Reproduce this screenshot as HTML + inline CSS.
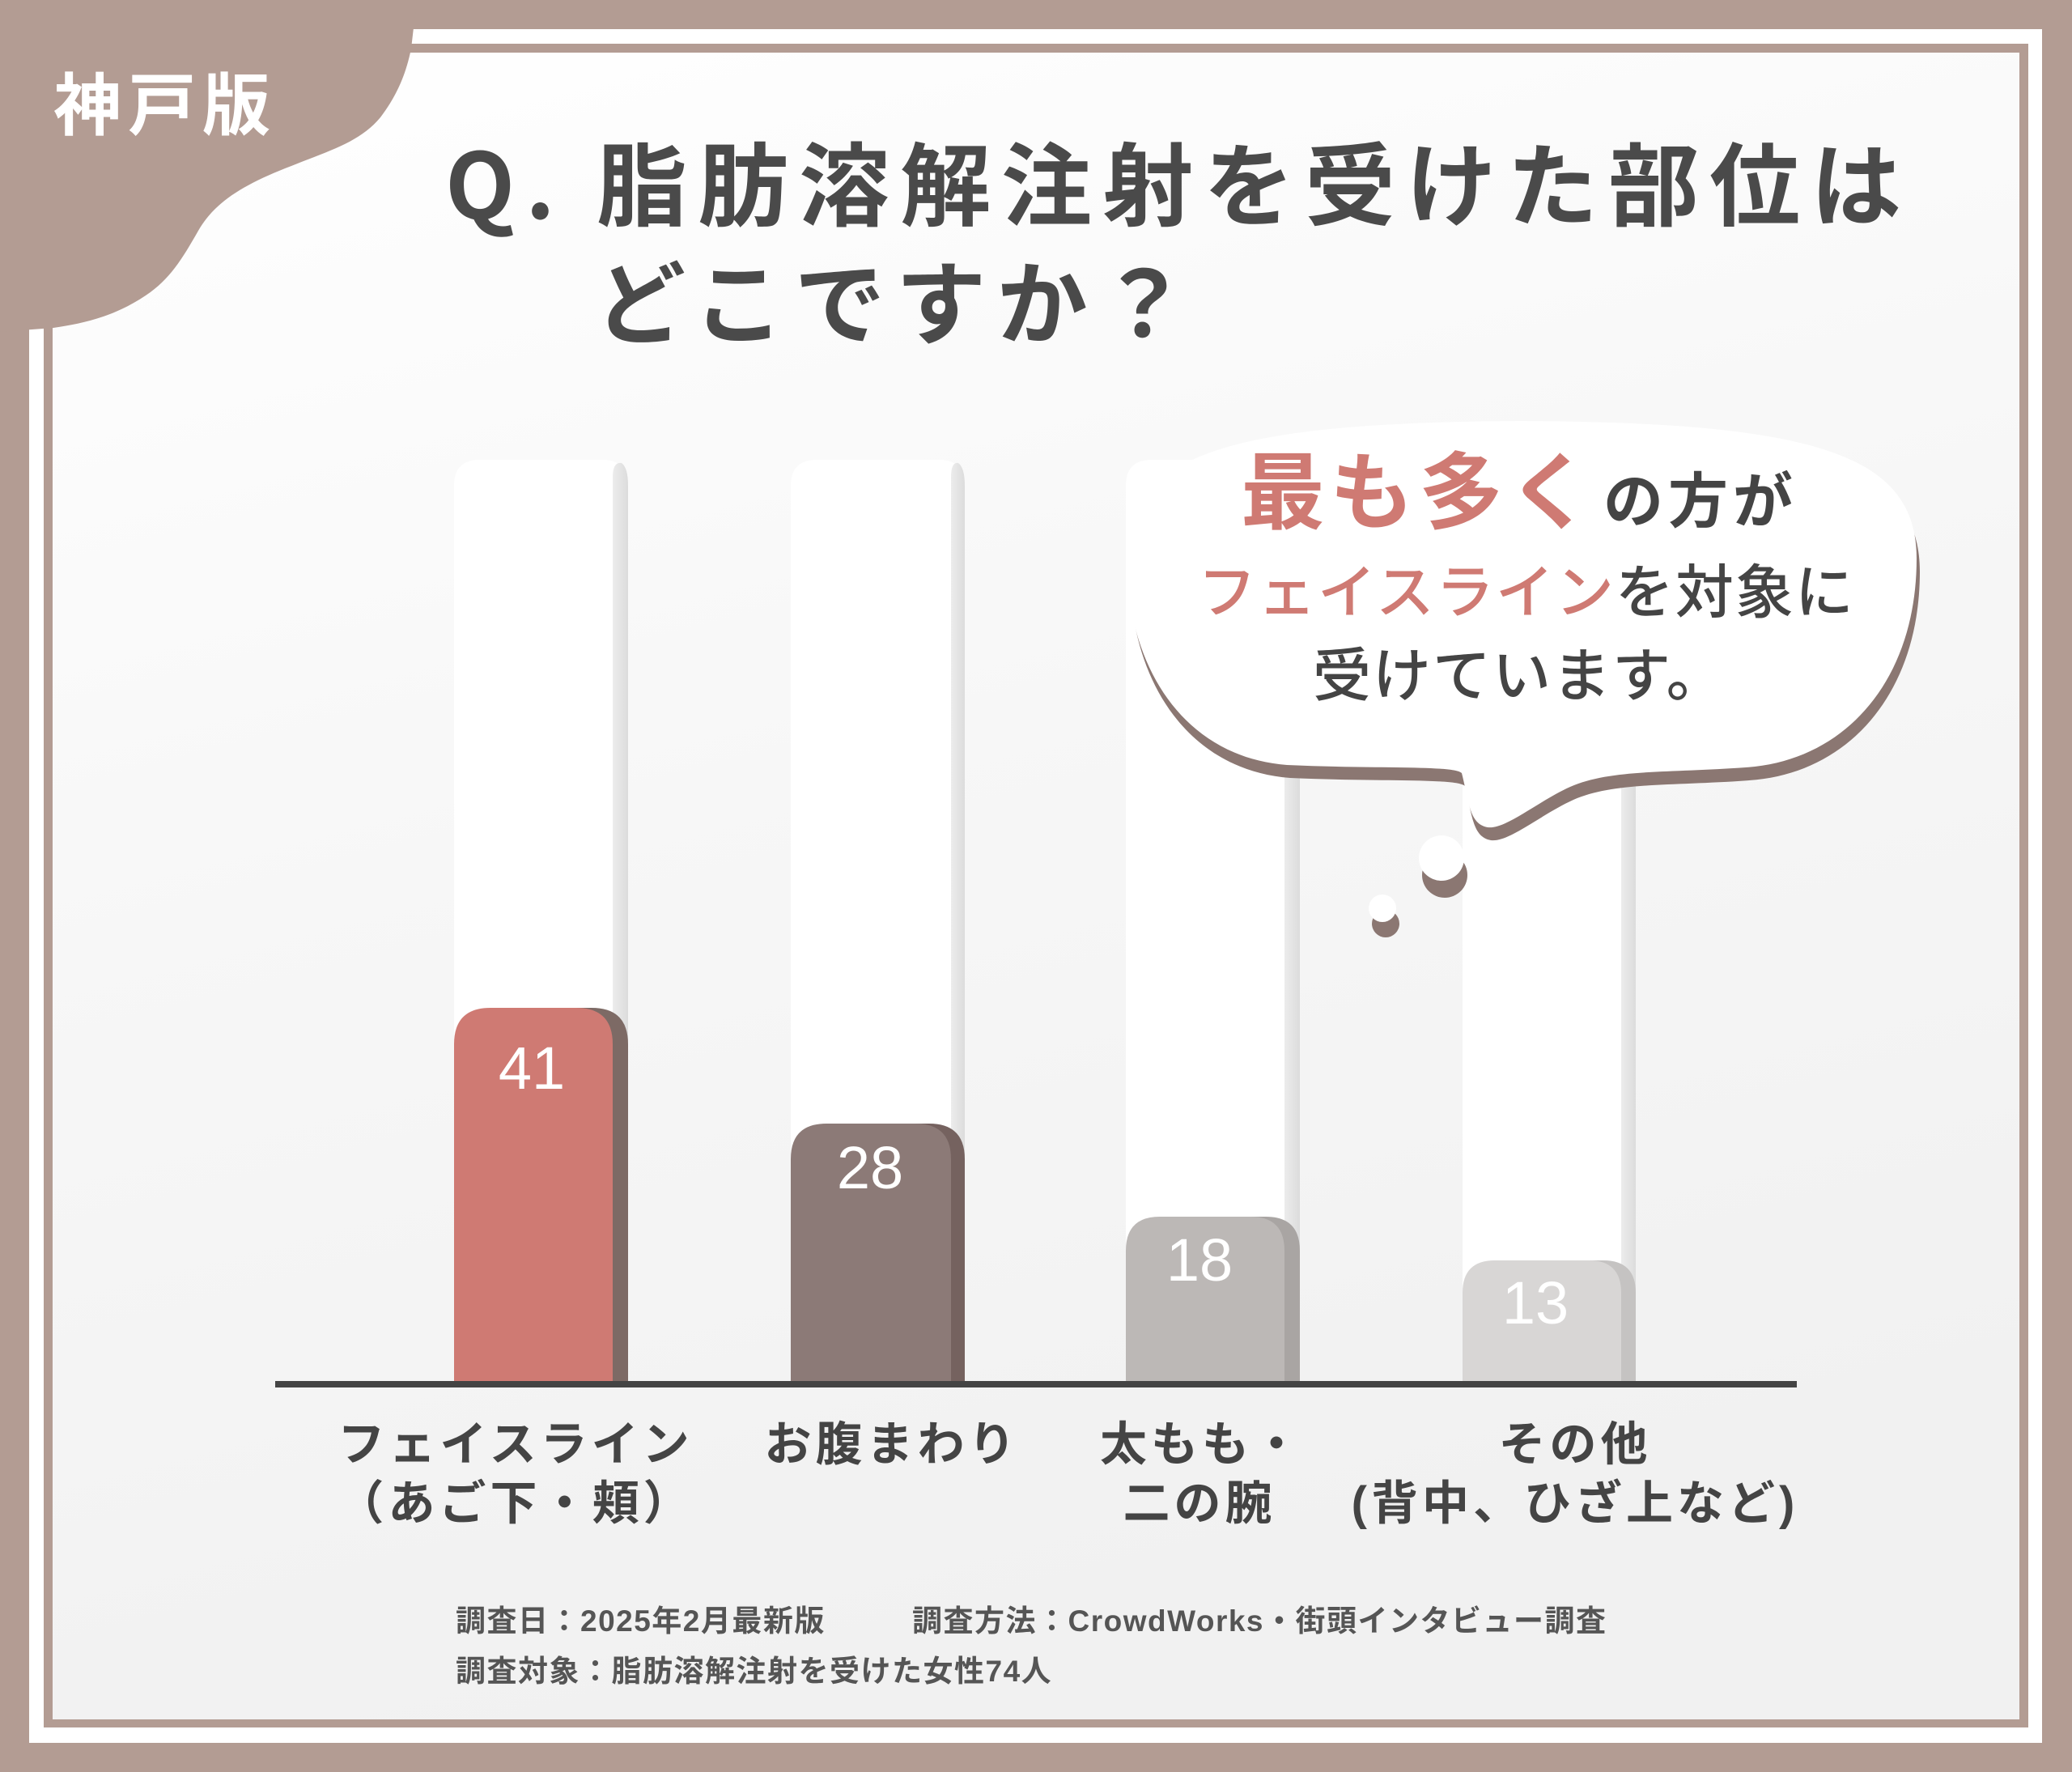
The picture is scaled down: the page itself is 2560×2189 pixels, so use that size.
<!DOCTYPE html>
<html><head><meta charset="utf-8"><style>
html,body{margin:0;padding:0;background:#b39c93;}
svg{display:block;}
text{font-family:"Liberation Sans","Noto Sans CJK JP",sans-serif;}
.jp{font-family:"Noto Sans CJK JP","Liberation Sans",sans-serif;}
</style></head><body>
<svg width="2560" height="2189" viewBox="0 0 2560 2189" xmlns="http://www.w3.org/2000/svg">
<defs>
<linearGradient id="bg" x1="0" y1="0" x2="0.3" y2="1">
<stop offset="0" stop-color="#ffffff"/><stop offset="0.5" stop-color="#f7f7f7"/><stop offset="1" stop-color="#f1f1f1"/>
</linearGradient>
<linearGradient id="trk" x1="0" y1="0" x2="1" y2="0">
<stop offset="0" stop-color="#ececec"/><stop offset="1" stop-color="#dcdcdc"/>
</linearGradient>
</defs>
<rect width="2560" height="2189" fill="#b39c93"/>
<rect x="36" y="36" width="2487" height="2117" fill="#ffffff"/>
<rect x="54" y="54" width="2452" height="2080" fill="#b39c93"/>
<rect x="65" y="65" width="2430" height="2059" fill="url(#bg)"/>
<path d="M0 0 L515 0 L508 60 C500 100 485 125 470 145 C445 175 410 185 360 205 C300 228 265 250 245 285 C225 320 210 345 180 365 C140 392 100 400 66 405 L0 410 Z" fill="#b39c93"/>
<text x="66" y="160" class="jp" font-size="84" font-weight="700" fill="#ffffff" letter-spacing="8">神戸版</text>
<text x="550" y="270" class="jp" font-size="112" font-weight="700" fill="#4a4a4a" letter-spacing="13">Q. 脂肪溶解注射を受けた部位は</text>
<text x="735" y="416" class="jp" font-size="112" font-weight="700" fill="#4a4a4a" letter-spacing="13">どこですか？</text>
<g>
<path d="M561 1712 V600 Q561 568 593 568 H744 Q776 568 776 600 V1712 Z" fill="#ffffff"/>
<path d="M757 1712 V590 Q757 570 768 572 Q776 578 776 600 V1712 Z" fill="url(#trk)"/>
<path d="M977 1712 V600 Q977 568 1009 568 H1160 Q1192 568 1192 600 V1712 Z" fill="#ffffff"/>
<path d="M1175 1712 V590 Q1175 570 1184 572 Q1192 578 1192 600 V1712 Z" fill="url(#trk)"/>
<path d="M1391 1712 V600 Q1391 568 1423 568 H1574 Q1606 568 1606 600 V1712 Z" fill="#ffffff"/>
<path d="M1587 1712 V590 Q1587 570 1598 572 Q1606 578 1606 600 V1712 Z" fill="url(#trk)"/>
<path d="M1807 1712 V600 Q1807 568 1839 568 H1989 Q2021 568 2021 600 V1712 Z" fill="#ffffff"/>
<path d="M2003 1712 V590 Q2003 570 2012 572 Q2021 578 2021 600 V1712 Z" fill="url(#trk)"/>
</g>
<path d="M580 1712 V1290 Q580 1245 625 1245 H731 Q776 1245 776 1290 V1712 Z" fill="#7d6a65"/>
<path d="M561 1712 V1290 Q561 1245 606 1245 H712 Q757 1245 757 1290 V1712 Z" fill="#cf7a73"/>
<path d="M996 1712 V1432 Q996 1388 1040 1388 H1148 Q1192 1388 1192 1432 V1712 Z" fill="#75625f"/>
<path d="M977 1712 V1432 Q977 1388 1021 1388 H1131 Q1175 1388 1175 1432 V1712 Z" fill="#8c7a77"/>
<path d="M1410 1712 V1545 Q1410 1503 1452 1503 H1564 Q1606 1503 1606 1545 V1712 Z" fill="#a9a5a3"/>
<path d="M1391 1712 V1545 Q1391 1503 1433 1503 H1545 Q1587 1503 1587 1545 V1712 Z" fill="#bcb8b6"/>
<path d="M1825 1712 V1597 Q1825 1557 1865 1557 H1981 Q2021 1557 2021 1597 V1712 Z" fill="#c5c3c2"/>
<path d="M1807 1712 V1597 Q1807 1557 1847 1557 H1963 Q2003 1557 2003 1597 V1712 Z" fill="#d8d6d5"/>
<rect x="340" y="1706" width="1880" height="8" fill="#444"/>
<g class="jp" font-size="74" font-weight="500" fill="#ffffff" text-anchor="middle">
<text x="657" y="1345">41</text>
<text x="1075" y="1468">28</text>
<text x="1482" y="1582">18</text>
<text x="1897" y="1635">13</text>
</g>
<g class="jp" font-size="58" font-weight="700" fill="#444" text-anchor="middle" letter-spacing="5">
<text x="637" y="1804">フェイスライン</text>
<text x="637" y="1877">（あご下・頬）</text>
<text x="1102" y="1804">お腹まわり</text>
<text x="1485" y="1804">太もも・</text>
<text x="1482" y="1877">二の腕</text>
<text x="1946" y="1804">その他</text>
<text x="1946" y="1877">(背中、ひざ上など)</text>
</g>
<g class="jp" font-size="37" font-weight="700" fill="#555" letter-spacing="1.5">
<text x="563" y="2015">調査日：2025年2月最新版</text>
<text x="1127" y="2015">調査方法：CrowdWorks・街頭インタビュー調査</text>
<text x="563" y="2077">調査対象：脂肪溶解注射を受けた女性74人</text>
</g>
<g transform="translate(4,16)" fill="#8b7772">
<path d="M1392 690 C1392 560 1520 522 1880 520 C2240 522 2368 560 2368 690 C2368 840 2280 940 2157 948 C2060 955 1990 950 1940 972 C1900 990 1860 1025 1838 1022 C1815 1018 1815 990 1806 955 C1795 945 1700 950 1590 945 C1460 935 1392 820 1392 690 Z"/>
<circle cx="1781" cy="1065" r="28"/>
<circle cx="1708" cy="1125" r="17"/>
</g>
<g fill="#ffffff">
<path d="M1392 690 C1392 560 1520 522 1880 520 C2240 522 2368 560 2368 690 C2368 840 2280 940 2157 948 C2060 955 1990 950 1940 972 C1900 990 1860 1025 1838 1022 C1815 1018 1815 990 1806 955 C1795 945 1700 950 1590 945 C1460 935 1392 820 1392 690 Z"/>
<circle cx="1781" cy="1060" r="28"/>
<circle cx="1708" cy="1122" r="17"/>
</g>
<text x="1533" y="645" class="jp" font-weight="700" letter-spacing="6"><tspan font-size="104" fill="#cf7a73">最も多く</tspan><tspan font-size="74" fill="#444" dx="8">の方が</tspan></text>
<text x="1480" y="757" class="jp" font-size="72" font-weight="500" letter-spacing="2"><tspan fill="#cf7a73">フェイスライン</tspan><tspan fill="#444">を対象に</tspan></text>
<text x="1622" y="860" class="jp" font-size="72" font-weight="500" fill="#444" letter-spacing="2">受けています。</text>
</svg>
</body></html>
